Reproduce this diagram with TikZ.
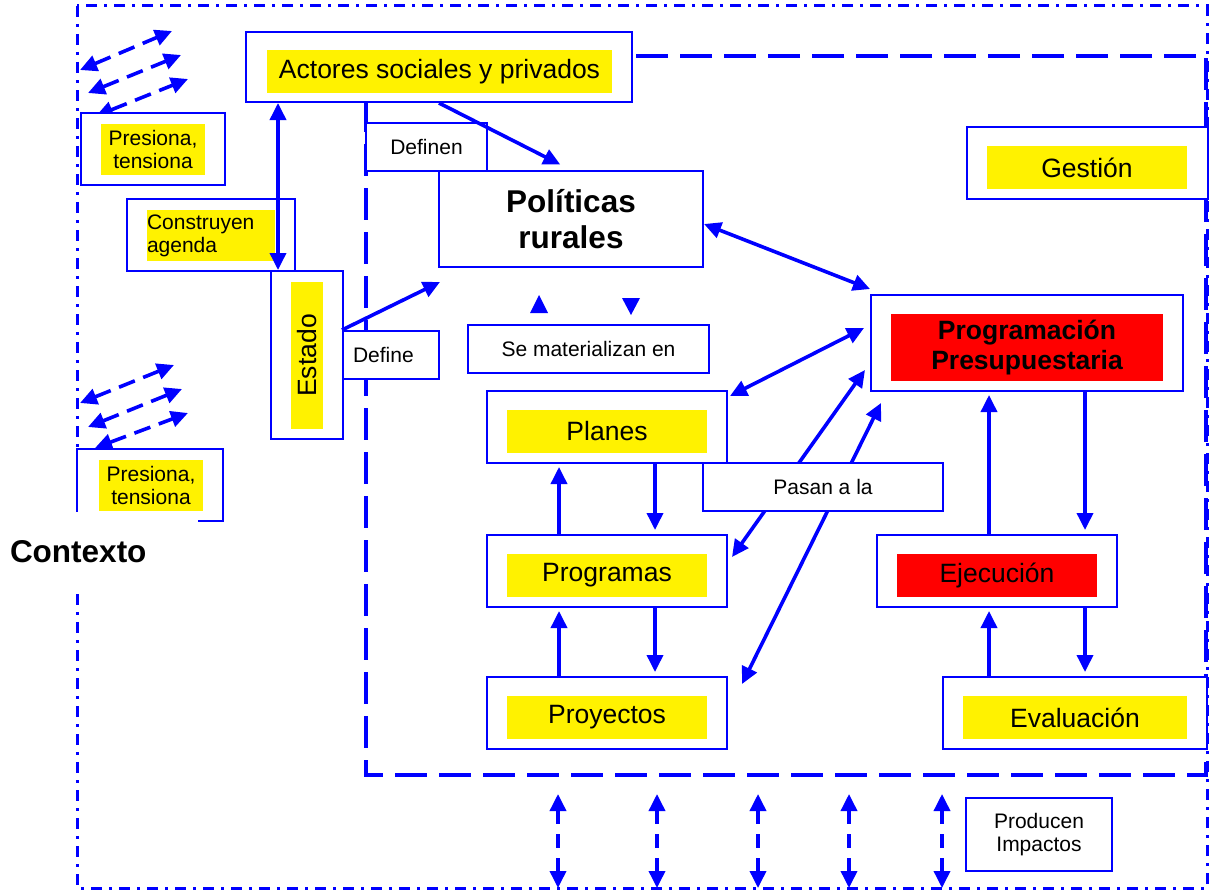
\documentclass[tikz,border=0pt]{standalone}
\usepackage{fontspec}
\setmainfont{Liberation Sans}
\usetikzlibrary{arrows.meta}

\begin{document}
\begin{tikzpicture}[x=1pt, y=-1pt]
  \tikzstyle{box} = [draw=blue, line width=2pt, fill=white, inner sep=0pt]
  \tikzstyle{hl} = [fill=yellow, inner sep=0pt, align=center]
  \tikzstyle{hot} = [fill=red, inner sep=0pt, align=center]
  \tikzstyle{txt} = [font=\fontsize{26.5}{30}\selectfont]
  \tikzstyle{small} = [font=\fontsize{21}{23.3}\selectfont, align=center]
  \tikzstyle{arr} = [draw=blue, line width=3.6pt, >={Triangle[length=17pt, width=16pt]}]
  \tikzstyle{darr} = [arr, dash pattern=on 17pt off 9pt]
  \tikzstyle{ctx} = [draw=blue, line width=3pt, dash pattern=on 11pt off 7pt on 3pt off 7pt]
  \tikzstyle{zone} = [draw=blue, line width=4pt, dash pattern=on 32pt off 12pt]

  \useasboundingbox (0,0) rectangle (1209,891);
  % contexto y zona de gestion
  \draw[ctx] (77,6) rectangle (1207,888);
  \draw[zone] (366,56) -- (366,775) -- (1206,775) -- (1206,56) -- (632,56);

  % presiones del contexto
  \foreach \xa/\ya/\xb/\yb in {80/70/172/31, 88/93/181/55, 96/116/188/79,
                               80/403/174/365, 88/427/182/389, 95/448/188/413}
    \draw[darr, <->] (\xa,\ya) -- (\xb,\yb);

  % actores y estado
  \node[box, minimum width=386, minimum height=70] (actores) at (439,67) {};
  \node[hl, txt, minimum width=345, minimum height=43] (actoresT) at (439.5,71.5) {Actores sociales y privados};
  \node[box, minimum width=144, minimum height=72] (presA) at (153,149) {};
  \node[hl, small, minimum width=104, minimum height=51] (presAT) at (153,149.5) {Presiona,\\tensiona};
  \node[box, minimum width=146, minimum height=72] (presB) at (150,485) {};
  \node[hl, small, minimum width=104, minimum height=51] (presBT) at (151,485.5) {Presiona,\\tensiona};
  \node[fill=white, font=\bfseries\fontsize{31.5}{36}\selectfont, text width=178pt, align=left,
        inner xsep=10pt, inner ysep=0pt, minimum height=81] (contexto) at (99,552) {Contexto};
  \node[box, minimum width=168, minimum height=72] (agenda) at (211,235) {};
  \node[hl, small, text width=128pt, align=left, minimum height=51] (agendaT) at (211,235.5) {Construyen\\agenda};
  \node[box, minimum width=72, minimum height=168] (estado) at (307,355) {};
  \node[hl, txt, rotate=90, minimum width=147, minimum height=32] (estadoT) at (307,355.5) {Estado};
  \node[box, small, text width=76pt, align=left, inner xsep=10pt, minimum height=48] (define) at (391,355) {Define};
  \node[box, small, minimum width=121, minimum height=48] (definen) at (426.5,147) {Definen};

  % politicas y sus instrumentos
  \node[box, font=\bfseries\fontsize{31.5}{36}\selectfont, align=center,
        minimum width=264, minimum height=96] (pol) at (571,219) {Políticas\\rurales};
  \node[box, small, minimum width=241, minimum height=48] (mater) at (588.5,349) {Se materializan en};
  \node[box, minimum width=240, minimum height=72] (planes) at (607,427) {};
  \node[hl, txt, minimum width=200, minimum height=43] (planesT) at (607,431.5) {Planes};
  \node[box, minimum width=240, minimum height=72] (programas) at (607,571) {};
  \node[hl, txt, minimum width=200, minimum height=43] (programasT) at (607,575.5) {Programas};
  \node[box, minimum width=240, minimum height=72] (proyectos) at (607,713) {};
  \node[hl, txt, minimum width=200, minimum height=43] (proyectosT) at (607,717.5) {Proyectos};

  % gestion
  \node[box, minimum width=241, minimum height=72] (gestion) at (1087.5,163) {};
  \node[hl, txt, minimum width=200, minimum height=43] (gestionT) at (1087,167.5) {Gestión};
  \node[box, minimum width=312, minimum height=96] (presup) at (1027,343) {};
  \node[hot, font=\bfseries\fontsize{26.5}{30}\selectfont, minimum width=272, minimum height=67]
        (presupT) at (1027,347.5) {Programación\\Presupuestaria};
  \node[box, minimum width=240, minimum height=72] (ejec) at (997,571) {};
  \node[hot, txt, minimum width=200, minimum height=43] (ejecT) at (997,575.5) {Ejecución};
  \node[box, minimum width=264, minimum height=72] (eval) at (1075,713) {};
  \node[hl, txt, minimum width=224, minimum height=43] (evalT) at (1075,717.5) {Evaluación};
  \node[box, small, minimum width=146, minimum height=73] (impact) at (1039,834.5) {Producen\\Impactos};

  % pasan a la programacion
  \draw[arr, <->] ([xshift=4pt,yshift=14pt]programas.east) -- ([xshift=-5pt,yshift=22pt]presup.south west);
  \draw[arr, <->] ([xshift=14pt,yshift=-8pt]proyectos.north east) -- ([xshift=11pt,yshift=-11pt]presup.south west);
  \node[box, small, minimum width=240, minimum height=48] (pasan) at (823,487) {Pasan a la};

  % relaciones
  \coordinate (estTop) at ([xshift=8pt]estado.north west);
  \coordinate (defTip) at ([yshift=48pt]define.north east);
  \draw[arr, <->] (estTop |- actores.south) -- (estTop);
  \draw[arr, ->, shorten >=12pt] (actores.south) -- (pol.north);
  \draw[arr, ->] (define.north west) -- (defTip);
  \draw[arr, <->] ([yshift=-5pt]pol.east) -- ([yshift=5pt]presup.north west);
  \draw[arr, <->] ([xshift=-6pt,yshift=15pt]presup.west) -- ([xshift=2pt,yshift=-6pt]planes.north east);
  \fill[blue] (530,313) -- (548,313) -- (539,295) -- cycle;
  \fill[blue] (622,298) -- (640,298) -- (631,315) -- cycle;

  \draw[arr, ->, shorten >=3pt] ([xshift=-48pt]programas.north) -- ([xshift=-48pt]planes.south);
  \draw[arr, ->, shorten >=4pt] ([xshift=48pt]planes.south) -- ([xshift=48pt]programas.north);
  \draw[arr, ->, shorten >=3pt] ([xshift=-48pt]proyectos.north) -- ([xshift=-48pt]programas.south);
  \draw[arr, ->, shorten >=4pt] ([xshift=48pt]programas.south) -- ([xshift=48pt]proyectos.north);

  \coordinate (eL) at ([xshift=-8pt]ejec.north);
  \coordinate (eR) at ([xshift=88pt]ejec.north);
  \draw[arr, ->, shorten >=3pt] (eL) -- (eL |- presup.south);
  \draw[arr, ->, shorten >=4pt] (eR |- presup.south) -- (eR);
  \draw[arr, ->, shorten >=3pt] (eL |- eval.north) -- (eL |- ejec.south);
  \draw[arr, ->, shorten >=4pt] (eR |- ejec.south) -- (eR |- eval.north);

  % impactos
  \foreach \x in {558,657,758,849,942}
    \draw[darr, <->, dash pattern=on 14pt off 10pt] (\x,794) -- (\x,888);
\end{tikzpicture}
\end{document}
